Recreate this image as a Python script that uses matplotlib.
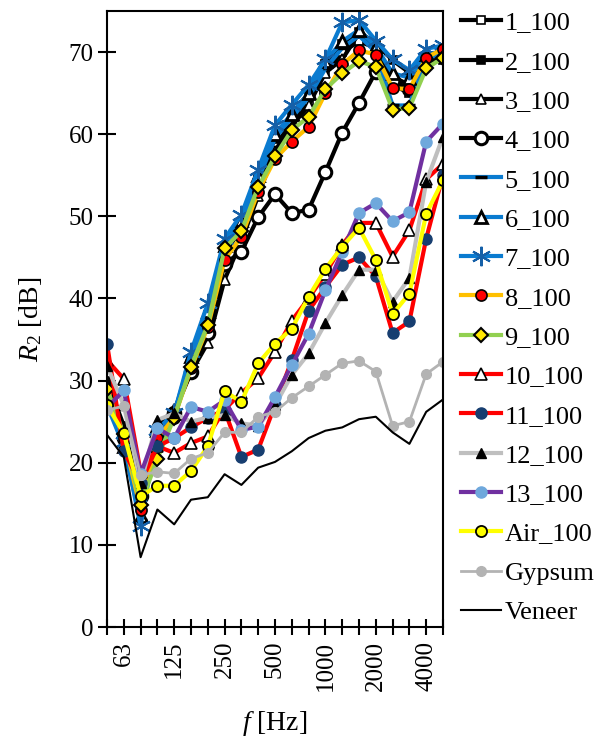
import matplotlib
matplotlib.use('Agg')
import matplotlib.pyplot as plt

plt.rcParams['font.family'] = ['Liberation Serif', 'DejaVu Serif']
plt.rcParams['mathtext.fontset'] = 'custom'
plt.rcParams['mathtext.rm'] = 'Liberation Serif'
plt.rcParams['mathtext.it'] = 'Liberation Serif:italic'

# 1/3 octave bands, 50 Hz .. 5000 Hz
freqs = [50, 63, 80, 100, 125, 160, 200, 250, 315, 400, 500, 630, 800,
         1000, 1250, 1600, 2000, 2500, 3150, 4000, 5000]
tick_labels = ['63', '125', '250', '500', '1000', '2000', '4000']

s1_100 = [29.5, 24.0, 15.0, 23.0, 25.5, 32.0, 37.5, 45.5, 48.5, 54.0, 58.5,
          61.5, 64.0, 67.5, 70.0, 71.3, 70.5, 66.0, 65.0, 69.0, 69.5]
s2_100 = [30.0, 24.5, 15.5, 23.5, 26.0, 32.5, 38.0, 46.0, 49.0, 54.5, 59.5,
          62.5, 65.0, 68.5, 71.0, 72.5, 71.0, 69.0, 67.5, 69.5, 69.0]
s3_100 = [28.5, 23.0, 16.0, 24.5, 26.5, 31.0, 34.6, 42.3, 47.0, 52.5, 58.0,
          61.0, 63.5, 67.5, 69.1, 72.3, 70.5, 67.0, 66.0, 69.0, 69.5]
s4_100 = [28.5, 23.0, 16.0, 23.5, 26.1, 31.0, 35.8, 44.2, 45.7, 49.9, 52.7,
          50.4, 50.8, 55.4, 60.2, 63.8, 67.6, 66.5, 65.5, 69.0, 69.5]
s5_100 = [27.0, 22.0, 13.0, 24.0, 26.0, 32.5, 38.0, 46.0, 49.0, 54.5, 59.5,
          62.0, 64.5, 68.0, 70.5, 72.0, 70.0, 63.5, 63.5, 69.5, 69.5]
s6_100 = [27.5, 22.0, 13.5, 24.0, 26.0, 33.0, 38.5, 46.5, 49.5, 55.0, 60.0,
          62.5, 65.0, 68.9, 71.3, 72.7, 70.7, 67.4, 66.9, 69.8, 70.0]
s7_100 = [28.0, 22.5, 12.3, 24.0, 26.0, 33.5, 39.4, 47.3, 50.2, 55.7, 61.1,
          63.6, 66.0, 69.1, 73.6, 73.9, 71.4, 69.1, 67.8, 70.4, 70.8]
s8_100 = [28.5, 23.0, 14.3, 23.0, 25.5, 31.5, 36.5, 44.7, 47.5, 53.0, 57.0,
          59.1, 60.9, 65.0, 68.5, 70.2, 69.7, 65.6, 65.5, 69.3, 70.4]
s9_100 = [29.0, 23.5, 14.9, 20.5, 25.5, 31.7, 36.8, 46.1, 48.2, 53.6, 57.3,
          60.5, 62.1, 65.5, 67.4, 68.9, 68.2, 63.0, 63.2, 68.0, 69.3]
s10_100 = [32.5, 30.2, 18.9, 22.0, 21.2, 22.4, 23.2, 26.5, 28.5, 30.3, 33.5,
           37.3, 40.0, 43.0, 46.5, 49.2, 49.2, 45.1, 48.3, 54.5, 56.4]
s11_100 = [34.5, 21.4, 17.5, 22.0, 23.0, 24.3, 25.5, 26.4, 20.7, 21.6, 27.0,
           32.5, 38.5, 41.4, 44.1, 45.0, 42.7, 35.8, 37.2, 47.3, 55.0]
s12_100 = [31.8, 27.0, 17.5, 25.2, 26.0, 25.0, 25.5, 25.8, 24.8, 24.5, 27.0,
           30.7, 33.3, 37.0, 40.4, 43.5, 43.5, 39.6, 42.5, 54.2, 59.7]
s13_100 = [26.7, 28.8, 18.6, 24.2, 23.0, 26.8, 26.2, 27.6, 24.0, 24.4, 28.0,
           31.9, 35.7, 41.0, 45.7, 50.4, 51.6, 49.4, 50.5, 59.1, 61.3]
air_100 = [27.0, 23.6, 15.9, 17.2, 17.2, 19.0, 22.0, 28.7, 27.4, 32.1, 34.5,
           36.3, 40.2, 43.6, 46.3, 48.6, 44.7, 38.1, 40.6, 50.3, 54.4]
gypsum = [26.4, 26.9, 18.5, 18.9, 18.7, 20.5, 21.2, 23.7, 23.7, 25.6, 26.2,
          27.9, 29.3, 30.7, 32.1, 32.4, 31.1, 24.5, 25.0, 30.8, 32.3]
veneer = [23.4, 20.7, 8.5, 14.3, 12.5, 15.5, 15.8, 18.6, 17.3, 19.4, 20.1,
          21.4, 23.0, 23.9, 24.3, 25.3, 25.6, 23.7, 22.3, 26.2, 27.7]

# (label, values, line colour, marker, marker face, marker edge, marker size, edge width)
series = [
    ('1_100', s1_100, 'black', 's', 'white', 'black', 6, 1.2),
    ('2_100', s2_100, 'black', 's', 'black', 'black', 6, 1.2),
    ('3_100', s3_100, 'black', '^', 'white', 'black', 7, 1.2),
    ('4_100', s4_100, 'black', 'o', 'white', 'black', 9, 2.2),
    ('5_100', s5_100, '#0A7BD0', '_', 'black', 'black', 8, 2.5),
    ('6_100', s6_100, '#0A7BD0', '^', 'white', 'black', 9, 2.0),
    ('7_100', s7_100, '#0A7BD0', (6, 2, 0), '#1560A8', '#1560A8', 14, 1.5),
    ('8_100', s8_100, '#FFC000', 'o', '#FF0000', 'black', 8, 1.2),
    ('9_100', s9_100, '#92D050', 'D', '#FFE800', 'black', 7, 1.5),
    ('10_100', s10_100, '#FF0000', '^', 'white', 'black', 8, 1.2),
    ('11_100', s11_100, '#FF0000', 'o', '#173E70', '#173E70', 8, 1.0),
    ('12_100', s12_100, '#BFBFBF', '^', 'black', 'black', 7, 1.0),
    ('13_100', s13_100, '#7030A0', 'o', '#6FA8DC', '#6FA8DC', 8, 1.0),
    ('Air_100', air_100, '#FFFF00', 'o', '#FFFF00', 'black', 8, 1.3),
    ('Gypsum', gypsum, '#B3B3B3', 'o', '#B3B3B3', '#B3B3B3', 7, 1.0),
]

x = list(range(len(freqs)))

fig = plt.figure(figsize=(5.98, 7.49), dpi=100)
ax = fig.add_axes([107 / 598, 1 - 627 / 749, (443 - 107) / 598, (627 - 11) / 749])

for label, vals, col, mk, mfc, mec, ms, mew in series:
    lw = 2.0 if label == 'Gypsum' else 3.0
    ax.plot(x, vals, color=col, lw=lw, marker=mk, markerfacecolor=mfc,
            markeredgecolor=mec, markersize=ms, markeredgewidth=mew, label=label)
ax.plot(x, veneer, color='black', lw=1.5, label='Veneer')

ax.set_xlim(0, 20)
ax.set_ylim(0, 75)
ax.set_yticks(range(0, 80, 10))
ax.set_xticks(x)
labels = ['' for f in freqs]
for t in tick_labels:
    labels[freqs.index(int(t))] = t
ax.set_xticklabels(labels, rotation=90)
ax.tick_params(axis='y', direction='inout', length=13, width=1.5, labelsize=18, pad=3)
ax.tick_params(axis='x', direction='inout', length=12, width=1.5, labelsize=18, pad=4)
for sp in ax.spines.values():
    sp.set_linewidth(1.5)

ax.set_ylabel('$R_2$ [dB]', fontsize=20, labelpad=18)
ax.set_xlabel('$f$ [Hz]', fontsize=20, labelpad=13)

fig.legend(loc='upper left', bbox_to_anchor=(461 / 598, 1 - 11 / 749), frameon=False,
           fontsize=19, handlelength=1.5, handletextpad=0.15, labelspacing=0.6,
           borderpad=0, borderaxespad=0)

fig.savefig('out.png', dpi=100)
